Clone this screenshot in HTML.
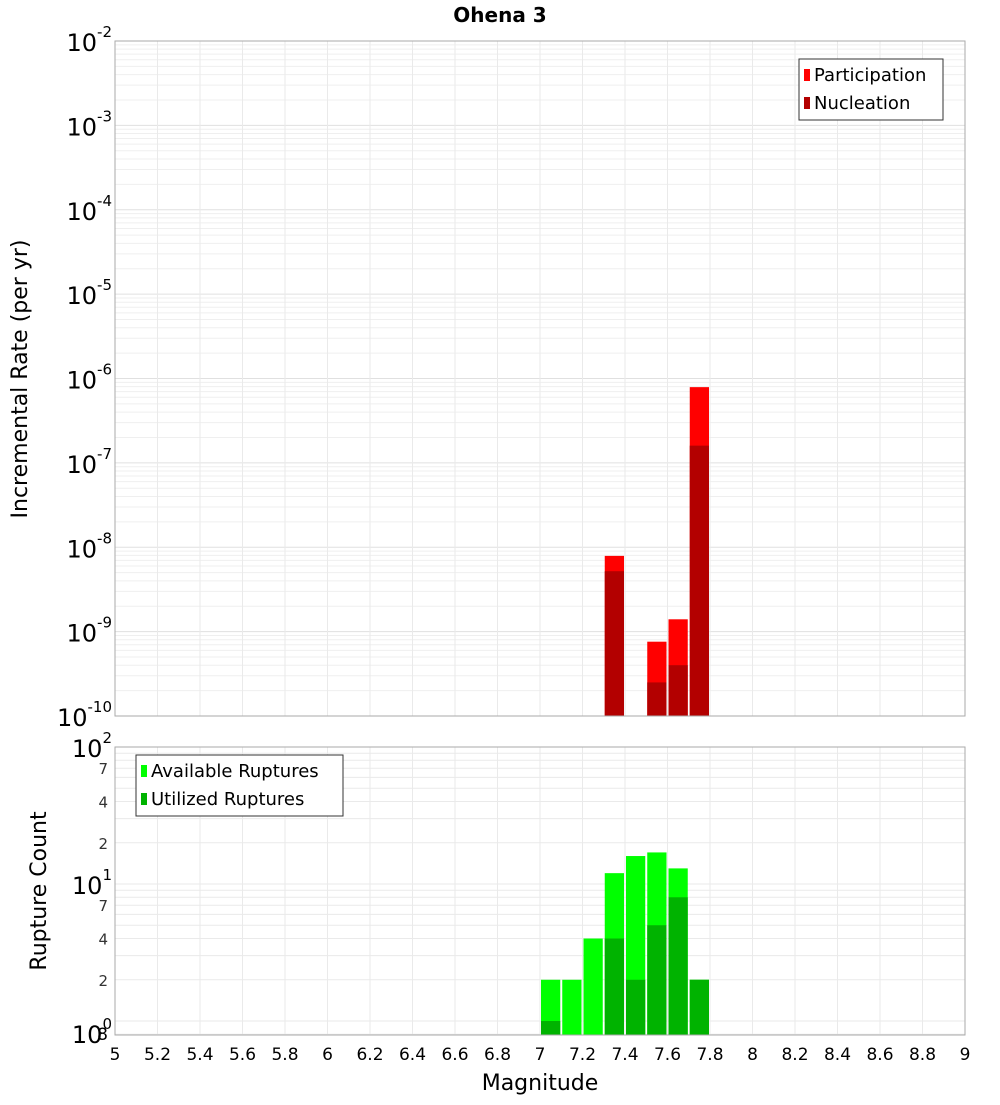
<!DOCTYPE html>
<html><head><meta charset="utf-8"><style>
body{margin:0;background:#fff;font-family:"Liberation Sans","DejaVu Sans",sans-serif}
svg text{font-family:"DejaVu Sans","Liberation Sans",sans-serif}
</style></head><body>
<svg id="chart" width="1000" height="1100" xmlns="http://www.w3.org/2000/svg">
<text x="500" y="22" text-anchor="middle" font-size="20" font-weight="bold">Ohena 3</text>
<g id="topPlot"></g>
<g id="botPlot"></g>
<text transform="translate(27,379) rotate(-90)" text-anchor="middle" font-size="22">Incremental Rate (per yr)</text>
<text transform="translate(46,891) rotate(-90)" text-anchor="middle" font-size="22">Rupture Count</text>
<text x="540" y="1090" text-anchor="middle" font-size="22">Magnitude</text>
</svg>
<script>
const mags=[7.05,7.15,7.25,7.35,7.45,7.55,7.65,7.75];
const participation=[0,0,0,7.9e-9,0,7.6e-10,1.4e-9,7.9e-7];
const nucleation=[0,0,0,5.2e-9,0,2.5e-10,4e-10,1.6e-7];
const available=[2,2,4,12,16,17,13,2];
const utilized=[1,0,0,4,2,5,8,2];
const xTicks=[5,5.2,5.4,5.6,5.8,6,6.2,6.4,6.6,6.8,7,7.2,7.4,7.6,7.8,8,8.2,8.4,8.6,8.8,9];
const topExps=[-2,-3,-4,-5,-6,-7,-8,-9,-10];
const botMinor=[2,4,7,20,40,70];

const NS="http://www.w3.org/2000/svg";
const X0=115,X1=965;
const xs=m=>X0+(m-5)/4*(X1-X0);
const T0=41,T1=716;
const yTop=v=>T0+(-2-Math.log10(v))/8*(T1-T0);
const B0=747,B1=1035,BD=137;
const yBot=v=>1021-Math.log10(v)*BD;
function el(p,t,a,txt){const e=document.createElementNS(NS,t);for(const k in a)e.setAttribute(k,a[k]);if(txt!==undefined)e.textContent=txt;p.appendChild(e);return e;}
const topG=document.getElementById('topPlot'),botG=document.getElementById('botPlot');

for(let e=-10;e<-2;e++)for(let k=1;k<10;k++){const y=yTop(k*Math.pow(10,e));const g=el(topG,'line',{x1:X0,x2:X1,y1:y,y2:y,stroke:k==1?'#e0e0e0':'#efefef','stroke-width':1});}
xTicks.forEach(m=>{const g=el(topG,'line',{x1:xs(m),x2:xs(m),y1:T0,y2:T1,stroke:'#eaeaea'});
 const h=el(botG,'line',{x1:xs(m),x2:xs(m),y1:B0,y2:B1,stroke:'#eaeaea'});});
[0.8,1,2,3,4,5,6,7,8,9,10,20,30,40,50,60,70,80,90,100].forEach(v=>{const y=yBot(v);if(y>B1||y<B0)return;const g=el(botG,'line',{x1:X0,x2:X1,y1:y,y2:y,stroke:'#eaeaea'});});

mags.forEach((m,i)=>{const x=xs(m-0.05)+1,w=xs(m+0.05)-xs(m-0.05)-2;
 if(participation[i]>0){const y=yTop(participation[i]);const r=el(topG,'rect',{x:x,y:y,width:w,height:T1-y,fill:'#ff0000'});}
 if(nucleation[i]>0){const y=yTop(nucleation[i]);const r=el(topG,'rect',{x:x,y:y,width:w,height:T1-y,fill:'#b30000'});}
 if(available[i]>0){const y=yBot(available[i]);const r=el(botG,'rect',{x:x,y:y,width:w,height:B1-y,fill:'#00ff00'});}
 if(utilized[i]>0){const y=yBot(utilized[i]);const r=el(botG,'rect',{x:x,y:y,width:w,height:B1-y,fill:'#00b300'});}
});
let f=el(topG,'rect',{x:X0,y:T0,width:X1-X0,height:T1-T0,fill:'none',stroke:'#aaa'});
f=el(botG,'rect',{x:X0,y:B0,width:X1-X0,height:B1-B0,fill:'none',stroke:'#aaa'});
topExps.forEach(e=>{const y=yTop(Math.pow(10,e));const t=el(topG,'text',{x:112,y:y+10,'text-anchor':'end','font-size':24});
 el(t,'tspan',{},'10');el(t,'tspan',{dy:-14,'font-size':15},String(e));});
[[100,'2'],[10,'1'],[1,'0']].forEach(([v,s])=>{const y=v==1?1033:yBot(v);const t=el(botG,'text',{x:112,y:y+10,'text-anchor':'end','font-size':24});
 el(t,'tspan',{},'10');el(t,'tspan',{dy:-14,'font-size':15},s);});
botMinor.forEach(v=>{const t=el(botG,'text',{x:108,y:yBot(v)+6,'text-anchor':'end','font-size':15,fill:'#333'},String(v%10==0?v/10:v));});
let t8=el(botG,'text',{x:108,y:1040,'text-anchor':'end','font-size':17},'8');
xTicks.forEach(m=>{const t=el(botG,'text',{x:xs(m),y:1060,'text-anchor':'middle','font-size':17},String(m));});
function legend(p,x,y,w,items){const g=el(p,'g',{});
 el(g,'rect',{x:x,y:y,width:w,height:items.length*28+5,fill:'#fff',stroke:'#333'});
 items.forEach(([c,s],i)=>{const r=el(g,'rect',{x:x+5,y:y+10+i*28,width:6,height:12,fill:c});
 const t=el(g,'text',{x:x+15,y:y+22+i*28,'font-size':18},s);});}
legend(topG,799,59,144,[['#ff0000','Participation'],['#b30000','Nucleation']]);
legend(botG,136,755,207,[['#00ff00','Available Ruptures'],['#00b300','Utilized Ruptures']]);
</script>
</body></html>
